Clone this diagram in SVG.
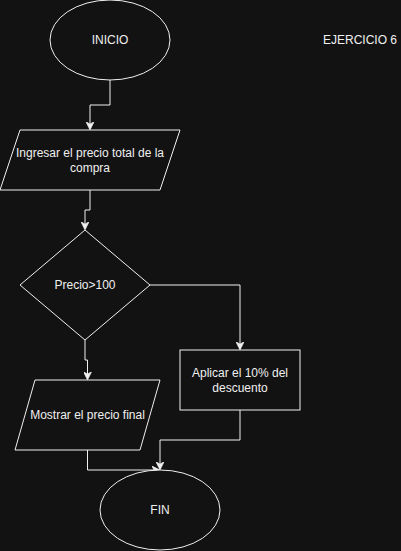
<svg xmlns="http://www.w3.org/2000/svg" width="401" height="551" viewBox="0 0 401 551">
<defs>
<style>
.s{fill:#121212;stroke:#f0f0f0;stroke-width:1}
.c{fill:none;stroke:#f0f0f0;stroke-width:1}
.t{font-family:"Liberation Sans",Arial,sans-serif;font-size:12px;fill:#f0f0f0;text-anchor:middle}
</style>
<marker id="a" viewBox="0 0 10 10" refX="9" refY="5" markerWidth="8" markerHeight="8" markerUnits="userSpaceOnUse" orient="auto">
<path d="M0,0 L10,5 L0,10 L3,5 Z" fill="#f0f0f0" stroke="#f0f0f0"/>
</marker>
</defs>
<rect width="401" height="551" fill="#121212"/>
<g id="connectors">
<path class="c" d="M110,80 V105 H90 V129" marker-end="url(#a)"/>
<path class="c" d="M90,190 V210 H85 V229" marker-end="url(#a)"/>
<path class="c" d="M150,285 H240 V349" marker-end="url(#a)"/>
<path class="c" d="M85,340 V360 H87.5 V379" marker-end="url(#a)"/>
<path class="c" d="M87.5,450 V470 H159" marker-end="url(#a)"/>
<path class="c" d="M240,410 V440 H160 V469" marker-end="url(#a)"/>
</g>
<g id="inicio">
<ellipse class="s" cx="110" cy="40" rx="60" ry="40"/>
<text class="t" x="110" y="44">INICIO</text>
</g>
<g id="ingresar">
<polygon class="s" points="20,130 180,130 160,190 0,190"/>
<text class="t" x="90" y="157">Ingresar el precio total de la</text>
<text class="t" x="90" y="172">compra</text>
</g>
<g id="decision">
<polygon class="s" points="85,230 150,285 85,340 20,285"/>
<text class="t" x="85" y="289">Precio&gt;100</text>
</g>
<g id="aplicar">
<rect class="s" x="180" y="350" width="120" height="60"/>
<text class="t" x="240" y="377">Aplicar el 10% del</text>
<text class="t" x="240" y="392">descuento</text>
</g>
<g id="mostrar">
<polygon class="s" points="35,380 160,380 140,450 15,450"/>
<text class="t" x="87.5" y="419">Mostrar el precio final</text>
</g>
<g id="fin">
<ellipse class="s" cx="160" cy="510" rx="60" ry="40"/>
<text class="t" x="160" y="514">FIN</text>
</g>
<g id="titulo">
<text class="t" x="360" y="44">EJERCICIO 6</text>
</g>
</svg>
